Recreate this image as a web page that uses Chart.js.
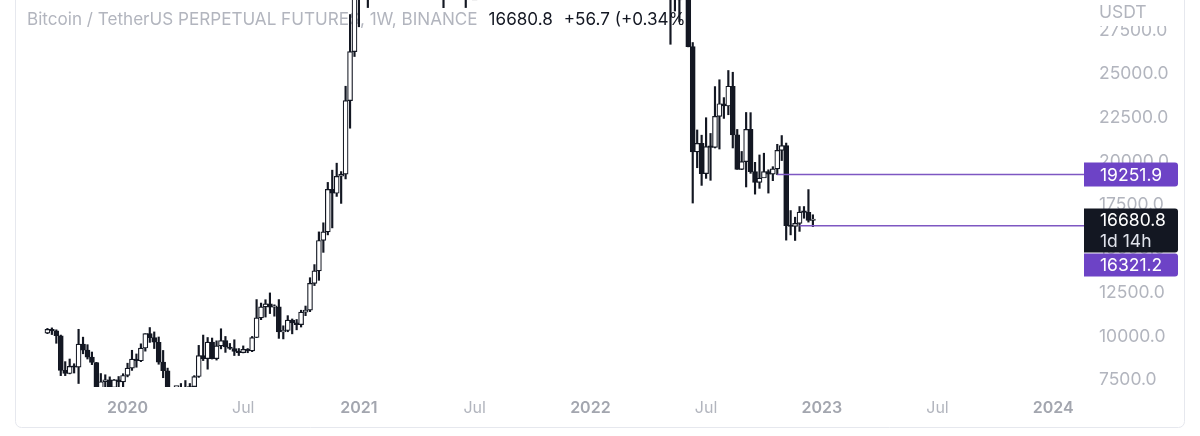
<!DOCTYPE html>
<html><head><meta charset="utf-8">
<script src="https://cdn.jsdelivr.net/npm/chart.js@4/dist/chart.umd.min.js"></script>
<style>html,body{margin:0;padding:0;background:#fff;overflow:hidden}#wrap{position:relative;width:1200px;height:436px}</style>
</head><body><div id="wrap"><canvas id="c" width="1200" height="436"></canvas></div>
<script>
// Weekly bars (Monday open), BINANCE BTCUSDT perpetual
const weeks = [
'2019-09-02','2019-09-09','2019-09-16','2019-09-23','2019-09-30','2019-10-07','2019-10-14','2019-10-21','2019-10-28','2019-11-04','2019-11-11','2019-11-18','2019-11-25','2019-12-02','2019-12-09','2019-12-16','2019-12-23','2019-12-30',
'2020-01-06','2020-01-13','2020-01-20','2020-01-27','2020-02-03','2020-02-10','2020-02-17','2020-02-24','2020-03-02','2020-03-09','2020-03-16','2020-03-23','2020-03-30','2020-04-06','2020-04-13','2020-04-20','2020-04-27','2020-05-04','2020-05-11','2020-05-18','2020-05-25','2020-06-01','2020-06-08','2020-06-15','2020-06-22','2020-06-29','2020-07-06','2020-07-13','2020-07-20','2020-07-27','2020-08-03','2020-08-10','2020-08-17','2020-08-24','2020-08-31','2020-09-07','2020-09-14','2020-09-21','2020-09-28','2020-10-05','2020-10-12','2020-10-19','2020-10-26','2020-11-02','2020-11-09','2020-11-16','2020-11-23','2020-11-30','2020-12-07','2020-12-14','2020-12-21','2020-12-28',
'2021-01-04','2021-01-11','2021-01-18','2021-01-25','2021-02-01','2021-02-08','2021-02-15','2021-02-22','2021-03-01','2021-03-08','2021-03-15','2021-03-22','2021-03-29','2021-04-05','2021-04-12','2021-04-19','2021-04-26','2021-05-03','2021-05-10','2021-05-17','2021-05-24','2021-05-31','2021-06-07','2021-06-14','2021-06-21','2021-06-28','2021-07-05','2021-07-12','2021-07-19','2021-07-26','2021-08-02','2021-08-09','2021-08-16','2021-08-23','2021-08-30','2021-09-06','2021-09-13','2021-09-20','2021-09-27','2021-10-04','2021-10-11','2021-10-18','2021-10-25','2021-11-01','2021-11-08','2021-11-15','2021-11-22','2021-11-29','2021-12-06','2021-12-13','2021-12-20','2021-12-27',
'2022-01-03','2022-01-10','2022-01-17','2022-01-24','2022-01-31','2022-02-07','2022-02-14','2022-02-21','2022-02-28','2022-03-07','2022-03-14','2022-03-21','2022-03-28','2022-04-04','2022-04-11','2022-04-18','2022-04-25','2022-05-02','2022-05-09','2022-05-16','2022-05-23','2022-05-30','2022-06-06','2022-06-13','2022-06-20','2022-06-27','2022-07-04','2022-07-11','2022-07-18','2022-07-25','2022-08-01','2022-08-08','2022-08-15','2022-08-22','2022-08-29','2022-09-05','2022-09-12','2022-09-19','2022-09-26','2022-10-03','2022-10-10','2022-10-17','2022-10-24','2022-10-31','2022-11-07','2022-11-14','2022-11-21','2022-11-28','2022-12-05','2022-12-12','2022-12-19'
];
const open = [
10180,10400,10310,10030,8050,7870,8280,8230,9550,9210,8810,8500,6900,7400,7510,7070,7510,7390,
7760,8180,8700,8600,9330,10150,9920,9660,8520,8030,5360,5830,5880,6770,6900,7120,7700,8900,8720,9670,8720,9450,9750,9390,9300,9140,9070,9250,9170,9930,11050,11680,11850,11660,11680,10250,10330,10920,10770,10670,11380,11500,13030,13740,15480,15970,18400,18180,19150,19270,23480,26280,
33000,38200,36000,32300,33100,38900,47200,57500,45200,51000,59000,57400,55800,57100,60000,56200,49100,56600,56700,46400,34700,35600,35800,39000,35500,34700,34200,34200,31500,35400,41500,44400,47000,49200,48800,51800,45200,47200,43200,48200,55000,61500,60900,61300,63300,65500,58600,57300,49400,48400,46700,50800,
46200,41800,43100,36300,37900,42400,42200,38400,37700,38800,37800,41300,46800,46400,42200,40400,39500,38500,34300,31300,29400,29440,29900,26570,20550,21030,19300,20850,20800,22580,23300,23170,24300,21520,19550,19990,21830,19420,18800,19050,19420,19270,19570,20630,20900,16330,16280,16460,17100,17090,16624.1
];
const high = [
10450,10480,10370,10070,8550,8700,8430,10400,9950,9520,9100,8510,7870,7800,7680,7530,7700,7860,
8460,9200,8990,9570,10150,10500,10250,9960,9190,8180,7000,6980,7300,7470,7300,7750,9480,10070,9930,9900,9740,10430,9990,9590,9800,9300,9450,9300,9990,12100,11900,12090,12480,11800,12100,10600,11180,10990,10960,11490,11730,13350,14100,15970,16490,18800,19500,19900,19420,24300,28400,34800,
42000,40100,37900,38500,40900,49700,58300,57600,52600,61800,61200,58400,60200,61300,64900,57500,58500,59600,58000,46700,40900,39500,41300,41300,36000,36600,35100,34700,35400,42600,44800,48100,49400,50500,52900,52900,48800,47300,49000,56600,62000,67000,63700,64300,69000,66300,59300,59200,51900,49500,52000,52100,
47600,44500,43500,38900,42700,45900,44800,40000,45400,42600,42300,46900,48200,47200,42400,42900,40800,40000,34300,31300,30600,32200,31700,26800,21800,21500,22500,21600,24280,24670,23650,25200,25100,21830,20570,22800,22790,19950,20370,20470,19520,19700,20980,21480,21050,17190,16810,17420,17420,18390,16950
];
const low = [
10150,10100,9600,7750,7750,7850,7900,7300,9000,8700,8380,6500,6800,7100,6950,6430,7110,6850,
7680,8050,8230,8550,9150,9650,9300,8400,7630,3620,4450,5670,5850,6760,6500,6810,7650,8610,8120,8700,8640,9280,9080,9250,8900,8900,9050,9060,9120,9920,10950,11100,11300,11150,9880,9850,10260,10140,10370,10530,11180,11410,12900,13200,14800,15800,16200,18000,17600,19000,21900,26000,
27700,30300,28800,29900,32300,37900,46900,43000,44900,49300,53300,50400,55500,55500,51300,47000,48800,53000,42000,28800,33400,34100,31100,34800,28800,32700,32100,31000,29400,35200,37500,43700,43900,46300,46500,42800,44000,39600,40700,46900,54400,59600,57800,59400,62300,55600,53200,42000,46600,45500,45500,45700,
40500,39600,32900,33000,36300,41600,38000,34300,37200,37200,37600,40500,44200,41900,39200,38500,37700,33700,26700,28600,28000,29300,26550,17620,19640,18630,19030,18920,20770,20710,22460,22670,20770,19550,19530,18540,19320,18130,18460,19090,18190,18900,19240,20050,15500,15800,15480,16000,16750,16530,16270
];
const close = [
10400,10310,10030,8050,7870,8280,8230,9550,9210,8810,8500,6900,7400,7510,7070,7510,7390,7760,
8180,8700,8600,9330,10150,9920,9660,8520,8030,5360,5830,5880,6770,6900,7120,7700,8900,8720,9670,8720,9450,9750,9390,9300,9140,9070,9250,9170,9930,11050,11680,11850,11660,11680,10250,10330,10920,10770,10670,11380,11500,13030,13740,15480,15970,18400,18180,19150,19270,23480,26280,33000,
38200,36000,32300,33100,38900,47200,57500,45200,51000,59000,57400,55800,57100,60000,56200,49100,56600,56700,46400,34700,35600,35800,39000,35500,34700,34200,34200,31500,35400,41500,44400,47000,49200,48800,51800,45200,47200,43200,48200,55000,61500,60900,61300,63300,65500,58600,57300,49400,48400,46700,50800,46200,
41800,43100,36300,37900,42400,42200,38400,37700,38800,37800,41300,46800,46400,42200,40400,39500,38500,34300,31300,29400,29440,29900,26570,20550,21030,19300,20850,20800,22580,23300,23170,24300,21520,19550,19990,21830,19420,18800,19050,19420,19270,19570,20630,20900,16330,16280,16460,17100,17090,16624.1,16680.8
];
const tickDates = ['2020-01-06','2020-07-06','2021-01-04','2021-07-05','2022-01-03','2022-07-04','2023-01-02','2023-07-03','2024-01-01'];
const tickLabels = ['2020','Jul','2021','Jul','2022','Jul','2023','Jul','2024'];
const priceTicks = [7500,10000,12500,15000,17500,20000,22500,25000,27500];
const levelValues = [19251.9, 16321.2];
const levelStarts = ['2022-10-24','2022-11-28'];
const titleText = 'Bitcoin / TetherUS PERPETUAL FUTURES, 1W, BINANCE';
const lastPrice = 16680.8, lastChange = 56.7, lastChangePct = 0.34, countdown = '1d 14h';

const T = d => Date.parse(d + 'T00:00:00Z');
const X_MIN = T('2019-07-13'), X_MAX = T('2024-02-20');
const INK = '#131722', GREY = '#b2b5be', PURPLE = '#7e57c2', PURPLE_BOX = '#6d43c6';
const FONT = 'Inter, "Noto Sans", sans-serif';

const datasets = [
  { type:'bar', label:'wick', order:3, grouped:false, barThickness:1.5,
    data: weeks.map((d,i)=>({x:T(d), y:[low[i], high[i]]})), backgroundColor: INK, borderWidth:0 },
  { type:'bar', label:'body', order:2, grouped:false, barThickness:5, minBarLength:1.5,
    data: weeks.map((d,i)=>({x:T(d), y:[open[i], close[i]]})),
    backgroundColor: weeks.map((d,i)=> close[i] >= open[i] ? '#ffffff' : INK),
    borderColor: INK, borderWidth:1.2, borderSkipped:false }
];
levelValues.forEach((v,k)=>datasets.push({ type:'line', label:'level'+k, order:1,
  data:[{x:T(levelStarts[k]), y:v},{x:X_MAX, y:v}], borderColor:PURPLE, borderWidth:1.5, pointRadius:0 }));

function rrect(ctx,x,y,w,h,r){ctx.beginPath();ctx.moveTo(x,y);ctx.lineTo(x+w-r,y);ctx.arcTo(x+w,y,x+w,y+r,r);ctx.lineTo(x+w,y+h-r);ctx.arcTo(x+w,y+h,x+w-r,y+h,r);ctx.lineTo(x,y+h);ctx.closePath();}

const overlay = {
  id:'overlay',
  beforeDraw(chart){
    const ctx = chart.ctx; ctx.save();
    ctx.fillStyle='#fff'; ctx.fillRect(0,0,chart.width,chart.height);
    ctx.strokeStyle='#e6e8ee'; ctx.lineWidth=1;
    ctx.beginPath(); ctx.roundRect(15.5,-10.5,1169,438,6); ctx.stroke();
    ctx.restore();
  },
  beforeDatasetsDraw(chart){
    const ctx = chart.ctx; ctx.save();
    ctx.font = '17.1px ' + FONT; ctx.textBaseline='alphabetic';
    ctx.fillStyle = GREY; ctx.fillText(titleText, 27, 25);
    let x = 27 + ctx.measureText(titleText).width + 11;
    ctx.fillStyle = INK;
    const s1 = lastPrice.toFixed(1);
    ctx.fillText(s1, x, 25); x += ctx.measureText(s1).width + 11;
    ctx.fillText('+' + lastChange.toFixed(1) + ' (+' + lastChangePct.toFixed(2) + '%)', x, 25);
    ctx.restore();
  },
  afterDraw(chart){
    const ctx = chart.ctx, ys = chart.scales.y, left = chart.chartArea.right - 1;
    ctx.save();
    ctx.fillStyle='#fff'; ctx.fillRect(left+2,0,95,26);
    ctx.font='17.5px '+FONT; ctx.fillStyle=GREY; ctx.textBaseline='middle';
    ctx.fillText('USDT', 1099, 13);
    const w = 94;
    let y0 = ys.getPixelForValue(levelValues[0]);
    ctx.fillStyle=PURPLE_BOX; rrect(ctx,left,y0-12,w,24,3); ctx.fill();
    ctx.fillStyle='#fff'; ctx.fillText(levelValues[0].toFixed(1),1100,y0+1);
    const yl = ys.getPixelForValue(lastPrice);
    const top = yl-11, h = 44;
    ctx.fillStyle=INK; rrect(ctx,left,top,w,h,3); ctx.fill();
    ctx.fillStyle='#fff'; ctx.fillText(lastPrice.toFixed(1),1100,yl+1);
    ctx.fillStyle='#e0e3eb'; ctx.fillText(countdown,1100,yl+22);
    let y1 = ys.getPixelForValue(levelValues[1]);
    let t1 = Math.max(y1-12, top+h+1);
    ctx.fillStyle=PURPLE_BOX; rrect(ctx,left,t1,w,23,3); ctx.fill();
    ctx.fillStyle='#fff'; ctx.fillText(levelValues[1].toFixed(1),1100,t1+12);
    ctx.restore();
  }
};

new Chart(document.getElementById('c'), {
  type:'bar',
  data:{ datasets },
  options:{
    responsive:false, animation:false, devicePixelRatio:1,
    layout:{ padding:{ left:15, right:15, top:0, bottom:9 } },
    plugins:{ legend:{display:false}, tooltip:{enabled:false} },
    scales:{
      x:{ type:'linear', min:X_MIN, max:X_MAX, offset:false,
        grid:{display:false, drawTicks:false}, border:{display:false},
        afterBuildTicks: s => { s.ticks = tickDates.map(d=>({value:T(d)})); },
        afterFit: s => { s.height = 40; s.paddingLeft = 0; s.paddingRight = 0; },
        ticks:{ autoSkip:false, maxRotation:0, padding:12,
          callback:(v,i)=>tickLabels[i],
          font: c => ({ family:FONT, size:16, weight: /^\d{4}$/.test(tickLabels[c.index]) ? '600' : '400' }),
          color: c => /^\d{4}$/.test(tickLabels[c.index]) ? '#a3a6af' : GREY }
      },
      y:{ type:'linear', position:'right', min:7100, max:29232,
        grid:{display:false, drawTicks:false}, border:{display:false},
        afterBuildTicks: s => { s.ticks = priceTicks.map(v=>({value:v})); },
        afterFit: s => { s.width = 100; s.paddingTop = 0; s.paddingBottom = 0; },
        ticks:{ padding:14, color:GREY, font:{family:FONT, size:17.5}, callback:v=>Number(v).toFixed(1) }
      }
    }
  },
  plugins:[overlay]
});
</script></body></html>
